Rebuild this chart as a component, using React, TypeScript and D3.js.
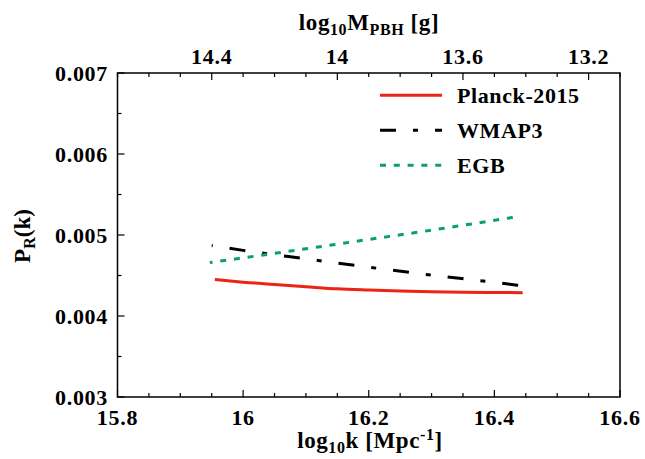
import React from "react";
import * as d3 from "d3";

// ---- data ----
const planckK = [15.955, 16.0, 16.05, 16.1, 16.15, 16.2, 16.25, 16.3, 16.35, 16.4, 16.445];
const planckP = [0.00445, 0.004418, 0.00439, 0.004362, 0.004335, 0.00432, 0.004308, 0.0043, 0.004294, 0.00429, 0.004288];

const wmapK = [15.95, 16.0, 16.1, 16.2, 16.3, 16.4, 16.444];
const wmapP = [0.00487, 0.00481, 0.004705, 0.004603, 0.004505, 0.004415, 0.004372];

const egbK = [15.947, 16.0, 16.1, 16.2, 16.3, 16.436];
const egbP = [0.00466, 0.004718, 0.00483, 0.004945, 0.00506, 0.005225];

const xTicks = [15.8, 16.0, 16.2, 16.4, 16.6];
const xTickLabels = ["15.8", "16", "16.2", "16.4", "16.6"];
const yTicks = [0.003, 0.004, 0.005, 0.006, 0.007];
const yTickLabels = ["0.003", "0.004", "0.005", "0.006", "0.007"];
const mTicks = [14.4, 14.0, 13.6, 13.2];
const mTickLabels = ["14.4", "14", "13.6", "13.2"];
const M_OFFSET = 46.3; // log10 M = 46.3 - 2 log10 k

const seriesNames = ["Planck-2015", "WMAP3", "EGB"];

const FONT = "'Liberation Serif', 'DejaVu Serif', serif";

export default function App() {
  const W = 645, H = 459;
  const L = 117.5, R = 620, T = 73, B = 397;
  const x = d3.scaleLinear().domain([15.8, 16.6]).range([L, R]);
  const y = d3.scaleLinear().domain([0.003, 0.007]).range([B, T]);
  const kOfM = (m: number) => (M_OFFSET - m) / 2;

  const line = d3.line<[number, number]>().x(d => x(d[0])).y(d => y(d[1])).curve(d3.curveMonotoneX);
  const zip = (a: number[], b: number[]) => a.map((v, i) => [v, b[i]] as [number, number]);

  const series = [
    { name: seriesNames[0], d: line(zip(planckK, planckP)), color: "#ec2415", dash: undefined, off: 0 },
    { name: seriesNames[1], d: line(zip(wmapK, wmapP)), color: "#000000", dash: "16,17,5,17", off: 37 },
    { name: seriesNames[2], d: line(zip(egbK, egbP)), color: "#0a9e74", dash: "6,7.8", off: 3.3 },
  ];

  const xMinor = d3.range(15.8, 16.6001, 0.05).map(v => +v.toFixed(3));
  const yMinor = d3.range(0.003, 0.00700001, 0.0005).map(v => +v.toFixed(5));
  const mMinor = d3.range(13.1, 14.7001, 0.1).map(v => +v.toFixed(2));
  const isMajor = (v: number, arr: number[]) => arr.some(a => Math.abs(a - v) < 1e-6);

  const tickMajor = 7, tickMinor = 4;
  const fs = 22;
  const ls = 0.7;
  const textStyle = { fontFamily: FONT, fontWeight: 700 } as React.CSSProperties;

  return (
    <svg width={W} height={H} style={{ position: "absolute", left: 0, top: 0, background: "#fff" }}>
      <rect x={0} y={0} width={W} height={H} fill="#fff" />
      {/* series */}
      {series.map(s => (
        <path key={s.name} d={s.d || ""} fill="none" stroke={s.color} strokeWidth={3}
          strokeDasharray={s.dash} strokeDashoffset={s.off} />
      ))}
      {/* ticks bottom */}
      {xMinor.map(v => {
        const len = isMajor(v, xTicks) ? tickMajor : tickMinor;
        return <line key={"bx" + v} x1={x(v)} x2={x(v)} y1={B} y2={B - len} stroke="#000" strokeWidth={1.2} />;
      })}
      {/* ticks left */}
      {yMinor.map(v => {
        const len = isMajor(v, yTicks) ? tickMajor : tickMinor;
        return <line key={"ly" + v} x1={L} x2={L + len} y1={y(v)} y2={y(v)} stroke="#000" strokeWidth={1.2} />;
      })}
      {/* ticks top (mass) */}
      {mMinor.map(m => {
        const len = isMajor(m, mTicks) ? tickMajor : tickMinor;
        const xx = x(kOfM(m));
        if (xx < L - 0.5 || xx > R + 0.5) return null;
        return <line key={"tm" + m} x1={xx} x2={xx} y1={T} y2={T + len} stroke="#000" strokeWidth={1.2} />;
      })}
      {/* frame */}
      <rect x={L} y={T} width={R - L} height={B - T} fill="none" stroke="#000" strokeWidth={1.5} />
      <g style={textStyle}>
        {/* tick labels */}
        {xTicks.map((v, i) => (
          <text key={"xl" + v} x={x(v)} y={425} fontSize={fs} letterSpacing={ls} textAnchor="middle">{xTickLabels[i]}</text>
        ))}
        {yTicks.map((v, i) => (
          <text key={"yl" + v} x={108} y={y(v) + 7.5} fontSize={fs} letterSpacing={ls} textAnchor="end">{yTickLabels[i]}</text>
        ))}
        {mTicks.map((m, i) => (
          <text key={"ml" + m} x={x(kOfM(m))} y={64} fontSize={fs} letterSpacing={ls} textAnchor="middle">{mTickLabels[i]}</text>
        ))}
        {/* axis titles */}
        <text x={370} y={448} fontSize={23} letterSpacing={0.6} textAnchor="middle">
          log<tspan fontSize={16} dy={5}>10</tspan><tspan dy={-5}>k [Mpc</tspan>
          <tspan fontSize={16} dy={-8}>-1</tspan><tspan dy={8}>]</tspan>
        </text>
        <text x={369} y={30} fontSize={23} letterSpacing={0.6} textAnchor="middle">
          log<tspan fontSize={16} dy={5}>10</tspan><tspan dy={-5}>M</tspan>
          <tspan fontSize={16} dy={5}>PBH</tspan><tspan dy={-5}> [g]</tspan>
        </text>
        <text transform="translate(30,236) rotate(-90)" fontSize={23} textAnchor="middle">
          P<tspan fontSize={16} dy={5}>R</tspan><tspan dy={-5}>(k)</tspan>
        </text>
        {/* legend */}
        {series.map((s, i) => {
          const by = 103.3 + i * 35;
          return (
            <g key={"lg" + s.name}>
              <line x1={380} x2={442} y1={by - 8} y2={by - 8} stroke={s.color} strokeWidth={3}
                strokeDasharray={s.dash} />
              <text x={457} y={by} fontSize={fs} letterSpacing={0.6}>{s.name}</text>
            </g>
          );
        })}
      </g>
    </svg>
  );
}
